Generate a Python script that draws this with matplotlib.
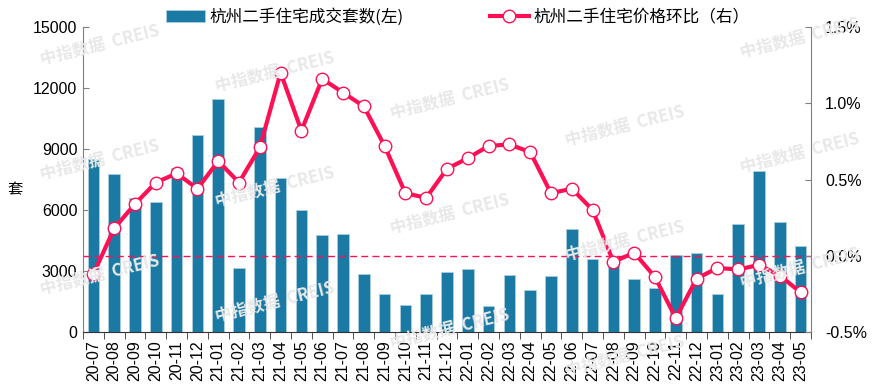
import matplotlib
matplotlib.use("Agg")
import matplotlib.pyplot as plt
import numpy as np
from matplotlib.ticker import FixedLocator

months = ["20-07","20-08","20-09","20-10","20-11","20-12","21-01","21-02","21-03","21-04",
          "21-05","21-06","21-07","21-08","21-09","21-10","21-11","21-12","22-01","22-02",
          "22-03","22-04","22-05","22-06","22-07","22-08","22-09","22-10","22-11","22-12",
          "23-01","23-02","23-03","23-04","23-05"]
volume = [8500, 7750, 6600, 6400, 8050, 9700, 11450, 3150, 10100, 7550,
          6000, 4770, 4820, 2850, 1870, 1340, 1870, 2970, 3110, 1280,
          2800, 2070, 2740, 5080, 3600, 3300, 2600, 2150, 3770, 3880,
          1880, 5310, 7920, 5390, 4250]
mom = [-0.12, 0.18, 0.34, 0.48, 0.54, 0.44, 0.62, 0.48, 0.71, 1.20,
       0.82, 1.16, 1.07, 0.98, 0.72, 0.41, 0.38, 0.57, 0.64, 0.72,
       0.73, 0.68, 0.41, 0.44, 0.30, -0.04, 0.02, -0.14, -0.41, -0.15,
       -0.08, -0.09, -0.06, -0.13, -0.24]
left_ticks = [0, 3000, 6000, 9000, 12000, 15000]
right_ticks = [-0.5, 0.0, 0.5, 1.0, 1.5]

bar_label = "杭州二手住宅成交套数(左)"
line_label = "杭州二手住宅价格环比（右）"

cjk = ["Noto Sans CJK SC", "DejaVu Sans"]
num_font = ["Liberation Sans", "DejaVu Sans"]

bar_color = "#1a7aa3"
line_color = "#ff1054"

fig = plt.figure(figsize=(8.74, 3.92), dpi=100)
ax = fig.add_axes([83/874, 1-332/392, (811-83)/874, (332-27)/392])
ax2 = ax.twinx()

# watermark
for c in range(5):
    for r in range(-1, 4):
        xw = 100 + 175*c
        yw = 45 + 27*c + 115*r
        if 25 < yw < 365:
            fig.text(xw/874, 1-yw/392, "中指数据  CREIS", family=cjk, fontsize=12,
                     fontweight="bold", color="#e8e8e8", rotation=14,
                     ha="center", va="center", zorder=0)

x = np.arange(len(months))
ax.bar(x, volume, width=0.55, color=bar_color, edgecolor="#a9cfe0", linewidth=0.6,
       label=bar_label, zorder=2)
ax.set_xlim(-0.5, len(months)-0.5)
ax.set_ylim(left_ticks[0], left_ticks[-1])
ax.set_yticks(left_ticks)
ax.set_yticklabels([str(v) for v in left_ticks], family=num_font, fontsize=11.5)
ax.set_xticks(x)
ax.set_xticklabels(months, rotation=90, family=num_font, fontsize=11.5)
ax.tick_params(axis="x", which="major", length=0, pad=6)
ax.xaxis.set_minor_locator(FixedLocator(np.arange(-0.5, len(months), 1.0)))
ax.tick_params(axis="x", which="minor", length=5, direction="out", color="#333333")
ax.tick_params(axis="y", direction="in", length=4, color="#808080", pad=4)

fig.text(15/874, 1-190/392, "套", family=cjk, fontsize=11, rotation=0,
         ha="center", va="center")

ax2.axhline(0, color=line_color, lw=1.0, ls=(0, (5, 3)), zorder=1)
ax2.plot(x, mom, color=line_color, lw=3, marker="o", markersize=9,
         markerfacecolor="white", markeredgecolor=line_color, markeredgewidth=1.0,
         label=line_label, zorder=3)
ax2.set_ylim(right_ticks[0], right_ticks[-1])
ax2.set_yticks(right_ticks)
ax2.set_yticklabels([f"{v:.1f}%" for v in right_ticks], family=num_font, fontsize=11.5)
ax2.tick_params(axis="y", direction="in", length=4, color="#808080", pad=10)

for a in (ax, ax2):
    a.spines["top"].set_visible(False)
    a.spines["left"].set_color("#808080")
    a.spines["right"].set_color("#808080")
    a.spines["bottom"].set_color("#333333")
    a.patch.set_visible(False)
ax2.spines["bottom"].set_visible(False)
ax.spines["right"].set_visible(False)
ax2.spines["left"].set_visible(False)

h1, l1 = ax.get_legend_handles_labels()
h2, l2 = ax2.get_legend_handles_labels()
leg = fig.legend(h1 + h2, l1 + l2, loc="center", bbox_to_anchor=(0.524, 1-17/392),
                 ncol=2, frameon=False, prop={"family": cjk, "size": 12},
                 columnspacing=5.2, handlelength=2.3, handletextpad=0.3)

fig.savefig("out.png", dpi=100)
